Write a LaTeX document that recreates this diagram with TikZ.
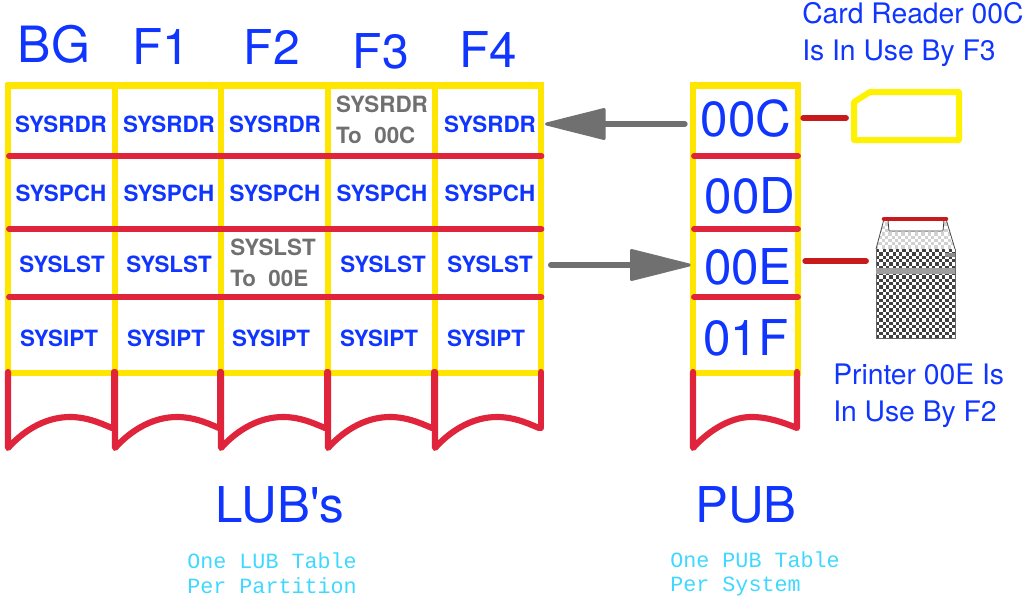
\documentclass[tikz,border=0pt]{standalone}
\usepackage{fontspec}
\setmainfont{TeX Gyre Heros}
\setmonofont{Liberation Mono}
\usetikzlibrary{arrows.meta}
\definecolor{tblyellow}{HTML}{FFE600}
\definecolor{tblred}{HTML}{E0243C}
\definecolor{linkred}{HTML}{C81A1A}
\definecolor{txtblue}{HTML}{0F35FF}
\definecolor{txtgray}{HTML}{707070}
\definecolor{txtcyan}{HTML}{40D8FF}
\tikzset{
  grid/.style={tblyellow,line width=4.7pt},
  rowline/.style={tblred,line width=4.4pt,line cap=round},
  tail/.style={tblred,line width=4.6pt,line cap=round,line join=round},
  link/.style={linkred,line width=4.4pt,line cap=round},
  usearrow/.style={txtgray,line width=4.4pt,line cap=round,-{Triangle[round,length=49pt,width=24pt,line width=2.2pt]}},
  head/.style={text=txtblue,inner sep=0pt},
  lubcell/.style={text=txtblue,font=\fontsize{16.8}{16.8}\selectfont\bfseries,inner sep=0pt,minimum width=84pt},
  usedcell/.style={text=txtgray,font=\fontsize{16.8}{23}\selectfont\bfseries,inner sep=0pt,align=left},
  pubcell/.style={text=txtblue,font=\fontsize{37}{37}\selectfont,inner sep=0pt,minimum width=85.5pt},
  note/.style={text=txtblue,font=\fontsize{21.2}{27.7}\selectfont,inner sep=0pt,align=left,anchor=west},
  small/.style={text=txtcyan,font=\fontsize{16.3}{18.5}\selectfont\ttfamily,inner sep=0pt,align=left,anchor=west}
}
\begin{document}
\begin{tikzpicture}[x=0.75pt,y=-0.75pt]
\useasboundingbox (0,0) rectangle (1026,600);

% partition headings
\node[head,font=\fontsize{37.5}{37.5}\selectfont] (bg) at (54,44) {BG};
\node[head,font=\fontsize{37}{37}\selectfont] (f1) at (161,47) {F1};
\node[head,font=\fontsize{36}{36}\selectfont] (f2) at (272,47) {F2};
\node[head,font=\fontsize{36}{36}\selectfont] (f3) at (381,51) {F3};
\node[head,font=\fontsize{37}{37}\selectfont] (f4) at (488,50) {F4};

% LUB tables
\draw[grid] (5.5,85.5) -- (543.5,85.5);
\draw[grid] (5.5,373) -- (543.5,373);
\foreach \x in {8,115,221,328,435,541}
  \draw[grid] (\x,83) -- (\x,373);
\foreach \y in {156,229,297}
  \draw[rowline] (9,\y) -- (541.5,\y);

\foreach \x in {8,115,221,328,435}
  \draw[tail] (\x,372) -- (\x,448) .. controls (\x+18,428) and (\x+40,417) .. (\x+62,417)
    .. controls (\x+78,417) and (\x+90,422) .. (\x+104,428);
\draw[tail] (114,372) -- (114,428);
\draw[tail] (220,372) -- (220,428);
\draw[tail] (327,372) -- (327,428);
\draw[tail] (434,372) -- (434,428);
\draw[tail] (541,372) -- (541,428);

\node[lubcell] (rdr0) at (61,124) {SYSRDR};
\node[lubcell] (rdr1) at (169,124) {SYSRDR};
\node[lubcell] (rdr2) at (275,124) {SYSRDR};
\node[usedcell] (rdr3) at (382,120) {SYSRDR\\To\ \ 00C};
\node[lubcell] (rdr4) at (490,124) {SYSRDR};

\node[lubcell] (pch0) at (61,193) {SYSPCH};
\node[lubcell] (pch1) at (169,193) {SYSPCH};
\node[lubcell] (pch2) at (275,193) {SYSPCH};
\node[lubcell] (pch3) at (382,193) {SYSPCH};
\node[lubcell] (pch4) at (490,193) {SYSPCH};

\node[lubcell] (lst0) at (62,264) {SYSLST};
\node[lubcell] (lst1) at (169,264) {SYSLST};
\node[usedcell] (lst2) at (273,263) {SYSLST\\To\ \ 00E};
\node[lubcell] (lst3) at (383,264) {SYSLST};
\node[lubcell] (lst4) at (490,264) {SYSLST};

\node[lubcell] (ipt0) at (59,338) {SYSIPT};
\node[lubcell] (ipt1) at (166,338) {SYSIPT};
\node[lubcell] (ipt2) at (271,338) {SYSIPT};
\node[lubcell] (ipt3) at (379,338) {SYSIPT};
\node[lubcell] (ipt4) at (486,338) {SYSIPT};

% PUB table
\draw[grid] (693,85.5) rectangle (798,373);
\foreach \y in {156,229,297}
  \draw[rowline] (694,\y) -- (798,\y);
\draw[tail] (693,372) -- (693,448) .. controls (711,428) and (733,417) .. (751,417)
  .. controls (768,417) and (782,422) .. (797,428) -- (797,372);

\node[pubcell] (pubc) at (746,119) {00C};
\node[pubcell] (pubd) at (750,196) {00D};
\node[pubcell] (pube) at (748,267) {00E};
\node[pubcell] (pubf) at (746,338) {01F};

% use arrows
\draw[usearrow,shorten <=3pt,shorten >=-1pt] (pubc.west |- rdr4.east) -- (rdr4.east);
\draw[usearrow,shorten <=3.5pt] ([yshift=-0.75pt]lst4.east) -- ([yshift=-0.75pt]pube.west |- lst4.east);

% card reader
\coordinate (cardend) at (846,118);
\draw[link] (pubc.east |- cardend) -- (cardend);
\draw[yellow,line width=4.5pt,line join=round] (854,102) -- (870,92) -- (959,92) -- (959,140) -- (854,140) -- cycle;

% printer
\coordinate (prnend) at (866,261);
\draw[link] (pube.east |- prnend) -- (prnend);
\foreach \i in {0,...,23}
  \foreach \j in {0,...,26} {
    \pgfmathparse{int(mod(\i+\j,2))}
    \ifnum\pgfmathresult=0
      \fill[black!75] (876+\i*3.3,249+\j*3.3) rectangle +(3.3,3.3);
    \fi
  }
\begin{scope}
  \clip (876,249) -- (884,219) -- (946,219) -- (955,249) -- cycle;
  \foreach \i in {0,...,24}
    \foreach \j in {0,...,9} {
      \pgfmathparse{int(mod(\i+\j,2))}
      \ifnum\pgfmathresult=0
        \fill[black!18] (875+\i*3.3,219+\j*3.3) rectangle +(3.3,3.3);
      \fi
    }
\end{scope}
\draw[black!70,line width=0.6pt] (876,249) -- (884,219) (946,219) -- (955,249);
\draw[black!60,line width=0.6pt] (876,249) -- (876,338) -- (955,338) -- (955,249);
\draw[black!75,fill=white,line width=0.6pt] (888,220) -- (889,231) -- (943,231) -- (944,220);
\fill[black!38] (876,268) rectangle (955,274);
\fill[black!45] (945,253) rectangle (955,257);
\draw[linkred,line width=3.4pt,line cap=round] (884,219) -- (946,219);

% notes
\node[note] (cardnote) at (802,34.5) {Card Reader 00C\\Is In Use By F3};
\node[note] (prnnote) at (833,396) {Printer 00E Is\\In Use By F2};

% captions
\node[head,font=\fontsize{37}{37}\selectfont] (lubs) at (280,505) {LUB\textquotesingle s};
\node[head,font=\fontsize{37}{37}\selectfont] (pub) at (746,505) {PUB};
\node[small] (lubnote) at (187,573) {One LUB Table\\Per Partition};
\node[small] (pubnote) at (670,574) {One PUB Table\\Per System};
\end{tikzpicture}
\end{document}
